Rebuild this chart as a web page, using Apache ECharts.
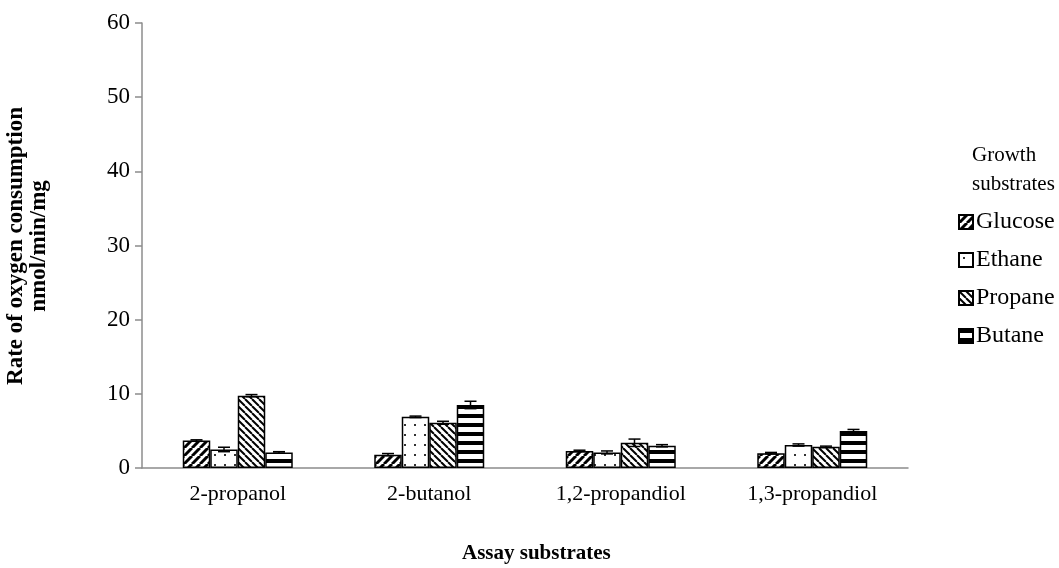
<!DOCTYPE html>
<html>
<head>
<meta charset="utf-8">
<script src="https://cdn.jsdelivr.net/npm/echarts@6/dist/echarts.min.js"></script>
<style>
  html, body { margin: 0; padding: 0; background: #fff; }
  #main { width: 1059px; height: 568px; }
</style>
</head>
<body>
<div id="main"></div>
<script>
// 数据
var categories = ['2-propanol', '2-butanol', '1,2-propandiol', '1,3-propandiol'];
var seriesNames = ['Glucose', 'Ethane', 'Propane', 'Butane'];
var glucose = [3.7, 1.8, 2.3, 2.0];
var ethane = [2.5, 6.9, 2.1, 3.1];
var propane = [9.75, 6.1, 3.4, 2.85];
var butane = [2.1, 8.5, 3.0, 5.0];
var glucoseErr = [0.1, 0.15, 0.1, 0.1];
var ethaneErr = [0.3, 0.1, 0.2, 0.15];
var propaneErr = [0.15, 0.2, 0.5, 0.1];
var butaneErr = [0.1, 0.5, 0.15, 0.2];
var yTicks = [0, 10, 20, 30, 40, 50, 60];

var values = [glucose, ethane, propane, butane];
var errs = [glucoseErr, ethaneErr, propaneErr, butaneErr];
var barW = 27.5;
var FONT = '"Liberation Serif", "Times New Roman", serif';

/* 填充图案 */
function makePattern(kind) {
  var c = document.createElement('canvas');
  var g = c.getContext('2d');
  var s;
  if (kind === 'fwd' || kind === 'back') {
    s = kind === 'fwd' ? 8 : 7;
    c.width = s; c.height = s;
    g.fillStyle = '#fff'; g.fillRect(0, 0, s, s);
    g.strokeStyle = '#000';
    g.lineWidth = kind === 'fwd' ? 3 : 2;
    for (var k = -1; k <= 1; k++) {
      g.beginPath();
      if (kind === 'fwd') {
        g.moveTo(k * s, s); g.lineTo(k * s + s, 0);
      } else {
        g.moveTo(k * s, 0); g.lineTo(k * s + s, s);
      }
      g.stroke();
    }
  } else if (kind === 'dots') {
    s = 10;
    c.width = s; c.height = s;
    g.fillStyle = '#fff'; g.fillRect(0, 0, s, s);
    g.fillStyle = '#333';
    g.fillRect(4, 4, 2, 2);
  } else {
    s = 9;
    c.width = s; c.height = s;
    g.fillStyle = '#fff'; g.fillRect(0, 0, s, s);
    g.fillStyle = '#000';
    g.fillRect(0, 0, s, 4);
  }
  return { image: c, repeat: 'repeat' };
}
var patterns = [makePattern('fwd'), makePattern('dots'), makePattern('back'), makePattern('hstripe')];

var series = [];
for (var i = 0; i < 4; i++) {
  series.push({
    name: seriesNames[i],
    type: 'bar',
    data: values[i],
    barWidth: barW,
    barGap: '0%',
    itemStyle: { color: patterns[i], borderColor: '#000', borderWidth: 1.5 }
  });
}

// 误差线
var errData = [];
for (var s = 0; s < 4; s++) {
  for (var j = 0; j < categories.length; j++) {
    errData.push([j, values[s][j], errs[s][j], s]);
  }
}
series.push({
  type: 'custom',
  data: errData,
  z: 10,
  renderItem: function (params, api) {
    var cat = api.value(0), v = api.value(1), e = api.value(2), si = api.value(3);
    var top = api.coord([cat, v + e]);
    var bot = api.coord([cat, v - e]);
    var x = top[0] + (si - 1.5) * barW;
    var hw = 6;
    var st = { stroke: '#000', lineWidth: 1.5 };
    return {
      type: 'group',
      children: [
        { type: 'line', shape: { x1: x, y1: top[1], x2: x, y2: bot[1] }, style: st },
        { type: 'line', shape: { x1: x - hw, y1: top[1], x2: x + hw, y2: top[1] }, style: st },
        { type: 'line', shape: { x1: x - hw, y1: bot[1], x2: x + hw, y2: bot[1] }, style: st }
      ]
    };
  }
});

var myChart = echarts.init(document.getElementById('main'));
var option = {
  animation: false,
  backgroundColor: '#fff',
  textStyle: { fontFamily: FONT },
  grid: { left: 142, right: 151, top: 23, bottom: 100 },
  legend: {
    data: seriesNames,
    orient: 'vertical',
    left: 958,
    top: 210,
    padding: 0,
    itemWidth: 14,
    itemHeight: 14,
    itemGap: 14,
    icon: 'rect',
    textStyle: { fontFamily: FONT, fontSize: 24, lineHeight: 24, color: '#000', padding: [0, 0, 0, -2] }
  },
  xAxis: {
    type: 'category',
    data: categories,
    axisLine: { lineStyle: { color: '#8c8c8c', width: 1.5 } },
    axisTick: { show: false },
    axisLabel: { color: '#000', fontSize: 22, fontFamily: FONT, margin: 15, interval: 0 }
  },
  yAxis: {
    type: 'value',
    min: 0,
    max: 60,
    interval: 10,
    axisLine: { show: true, lineStyle: { color: '#8c8c8c', width: 1.5 } },
    axisTick: { show: true, length: 7, lineStyle: { color: '#8c8c8c', width: 1.5 } },
    splitLine: { show: false },
    axisLabel: {
      color: '#000', fontSize: 23, fontFamily: FONT, margin: 12,
      formatter: function (v) { return yTicks.indexOf(v) >= 0 ? String(v) : ''; }
    }
  },
  graphic: [
    {
      type: 'text', x: 28, y: 246, rotation: Math.PI / 2, originX: 0, originY: 0,
      style: {
        text: 'Rate of oxygen consumption\nnmol/min/mg', fill: '#000',
        font: 'bold 23px ' + FONT, align: 'center', verticalAlign: 'middle', lineHeight: 23
      }
    },
    {
      type: 'text', left: 462, top: 543,
      style: { text: 'Assay substrates', fill: '#000', font: 'bold 21px ' + FONT }
    },
    {
      type: 'text', left: 972, top: 141,
      style: { text: 'Growth\nsubstrates', fill: '#000', font: '21px ' + FONT, lineHeight: 29 }
    }
  ],
  series: series
};
myChart.setOption(option);
</script>
</body>
</html>
